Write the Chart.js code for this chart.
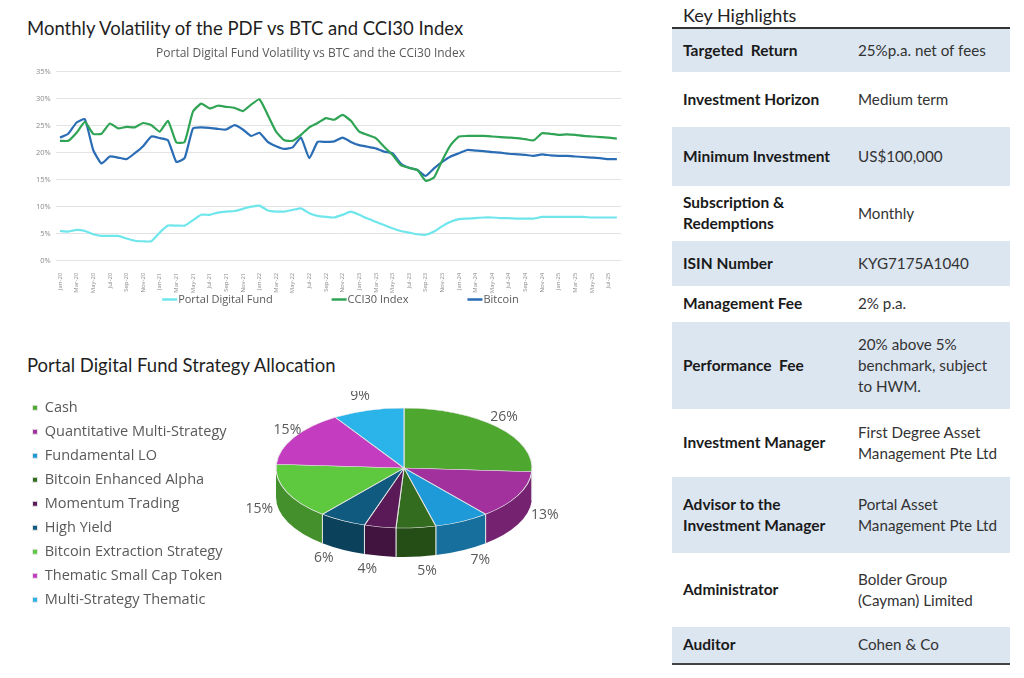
<!DOCTYPE html>
<html><head><meta charset="utf-8">
<script src="https://cdn.jsdelivr.net/npm/chart.js@4.4.1/dist/chart.umd.min.js"></script>
<style>
html,body{margin:0;padding:0;background:#fff;}
body{width:1024px;height:678px;position:relative;overflow:hidden;font-family:Lato,sans-serif;}
.ttl{position:absolute;left:27px;font-size:18.5px;color:#1f1f1f;white-space:nowrap;line-height:22px;}
#lineC{position:absolute;left:0;top:40px;}
#pieC{position:absolute;left:23px;top:391px;}
#kh{position:absolute;left:672px;top:0;width:338px;}
#kh .hdr{position:absolute;left:11px;top:4px;font-size:18px;color:#222;line-height:22px;white-space:nowrap;}
#kh .rule{position:absolute;left:0;top:27px;width:338px;height:1.5px;background:#333;}
#kh table{position:absolute;left:0;top:29px;width:338px;border-collapse:collapse;font-size:15.2px;line-height:21px;table-layout:fixed;}
#kh td{padding:0;vertical-align:middle;white-space:nowrap;color:#333;}
#kh td.k{width:175px;padding-left:11px;font-weight:bold;color:#1a1a1a;font-size:15.5px;}
#kh tr.s td{background:#dce6f1;}
#kh .bot{position:absolute;left:0;top:663px;width:338px;height:2px;background:#444;}
</style></head>
<body>
<div class="ttl" style="top:17px">Monthly Volatility of the PDF vs BTC and CCI30 Index</div>
<canvas id="lineC" width="640" height="275"></canvas>
<div class="ttl" style="top:354px">Portal Digital Fund Strategy Allocation</div>
<canvas id="pieC" width="560" height="240"></canvas>
<div id="kh">
  <div class="hdr">Key Highlights</div>
  <div class="rule"></div>
  <table>
    <colgroup><col style="width:186px"><col style="width:152px"></colgroup>
    <tr class="s" style="height:42.7px"><td class="k">Targeted&nbsp; Return</td><td>25%p.a. net of fees</td></tr>
    <tr style="height:55.7px"><td class="k">Investment Horizon</td><td>Medium term</td></tr>
    <tr class="s" style="height:58.3px"><td class="k">Minimum Investment</td><td>US$100,000</td></tr>
    <tr style="height:55px"><td class="k">Subscription &amp;<br>Redemptions</td><td>Monthly</td></tr>
    <tr class="s" style="height:45px"><td class="k">ISIN Number</td><td>KYG7175A1040</td></tr>
    <tr style="height:36px"><td class="k">Management Fee</td><td>2% p.a.</td></tr>
    <tr class="s" style="height:87px"><td class="k">Performance&nbsp; Fee</td><td>20% above 5%<br>benchmark, subject<br>to HWM.</td></tr>
    <tr style="height:68px"><td class="k">Investment Manager</td><td>First Degree Asset<br>Management Pte Ltd</td></tr>
    <tr class="s" style="height:76px"><td class="k">Advisor to the<br>Investment Manager</td><td>Portal Asset<br>Management Pte Ltd</td></tr>
    <tr style="height:74px"><td class="k">Administrator</td><td>Bolder Group<br>(Cayman) Limited</td></tr>
    <tr class="s" style="height:36px"><td class="k">Auditor</td><td>Cohen &amp; Co</td></tr>
  </table>
  <div class="bot"></div>
</div>
<script>
// ---------- Line chart data ----------
const months = [
 'Jan-20','Feb-20','Mar-20','Apr-20','May-20','Jun-20','Jul-20','Aug-20','Sep-20','Oct-20','Nov-20','Dec-20',
 'Jan-21','Feb-21','Mar-21','Apr-21','May-21','Jun-21','Jul-21','Aug-21','Sep-21','Oct-21','Nov-21','Dec-21',
 'Jan-22','Feb-22','Mar-22','Apr-22','May-22','Jun-22','Jul-22','Aug-22','Sep-22','Oct-22','Nov-22','Dec-22',
 'Jan-23','Feb-23','Mar-23','Apr-23','May-23','Jun-23','Jul-23','Aug-23','Sep-23','Oct-23','Nov-23','Dec-23',
 'Jan-24','Feb-24','Mar-24','Apr-24','May-24','Jun-24','Jul-24','Aug-24','Sep-24','Oct-24','Nov-24','Dec-24',
 'Jan-25','Feb-25','Mar-25','Apr-25','May-25','Jun-25','Jul-25','Aug-25'
];
const portalDigitalFund = [
 5.5,5.4,5.7,5.5,4.9,4.6,4.6,4.6,4.1,3.7,3.6,3.6,
 5.2,6.5,6.5,6.5,7.5,8.5,8.5,8.9,9.1,9.2,9.6,10.0,
 10.2,9.3,9.1,9.1,9.4,9.7,8.8,8.3,8.1,8.0,8.5,9.1,
 8.5,7.8,7.2,6.6,6.0,5.5,5.2,4.9,4.8,5.4,6.4,7.2,
 7.7,7.8,7.9,8.0,8.0,7.9,7.9,7.8,7.8,7.8,8.1,8.1,
 8.1,8.1,8.1,8.1,8.0,8.0,8.0,8.0
];
const cci30Index = [
 22.2,22.2,23.7,25.7,23.5,23.5,25.4,24.5,24.8,24.7,25.5,25.1,
 23.9,25.9,21.9,22.0,27.6,29.1,28.2,28.7,28.5,28.3,27.7,28.9,
 29.9,27.0,23.9,22.3,22.2,23.3,24.7,25.5,26.4,26.1,27.0,25.9,
 23.9,23.3,22.7,21.1,19.6,17.7,17.2,16.8,14.8,15.4,18.6,21.4,
 23.0,23.1,23.1,23.1,23.0,22.9,22.8,22.7,22.5,22.3,23.6,23.5,
 23.3,23.4,23.3,23.1,23.0,22.9,22.8,22.6
];
const bitcoin = [
 22.8,23.5,25.6,26.2,20.5,18.0,19.3,19.1,18.8,19.9,21.2,23.0,
 22.7,22.3,18.3,19.0,24.5,24.7,24.6,24.4,24.3,25.1,24.3,23.1,
 23.7,22.0,21.2,20.7,21.0,22.8,19.0,22.0,22.0,22.1,22.8,22.0,
 21.4,21.1,20.8,20.2,19.9,18.0,17.2,16.8,15.7,17.1,18.3,19.3,
 19.9,20.5,20.4,20.3,20.1,20.0,19.8,19.7,19.6,19.4,19.7,19.5,
 19.4,19.4,19.3,19.2,19.1,19.0,18.8,18.8
];
const seriesNames = ['Portal Digital Fund','CCI30 Index','Bitcoin'];

// ---------- Pie data ----------
const allocLabels = ['Cash','Quantitative Multi-Strategy','Fundamental LO','Bitcoin Enhanced Alpha','Momentum Trading','High Yield','Bitcoin Extraction Strategy','Thematic Small Cap Token','Multi-Strategy Thematic'];
const allocValues = [26,13,7,5,4,6,15,15,9];
const allocColors = ['#4ea72e','#a2309d','#1f9ad8','#336b1f','#5a1a58','#0f5a7e','#5ec83f','#c43cbf','#2ab4ea'];

Chart.defaults.font.family = '"Open Sans", sans-serif';
Chart.defaults.animation = false;

const lineLegend = {
  id:'lineLegend',
  afterDraw(chart){
    const ctx = chart.ctx, ca = chart.chartArea;
    ctx.save();
    ctx.font = '11px "Open Sans"';
    const items = chart.data.datasets.map(d => ({t:d.label, c:d.borderColor, w:ctx.measureText(d.label).width}));
    const sw = 15, g1 = 1, gap = 59;
    const total = items.reduce((a,it)=>a+sw+g1+it.w,0) + gap*(items.length-1);
    let x = (ca.left+ca.right)/2 - total/2 + 2;
    const y = ca.bottom + 38.8;
    ctx.textBaseline = 'middle';
    items.forEach(it => {
      ctx.strokeStyle = it.c; ctx.lineWidth = 2.5;
      ctx.beginPath(); ctx.moveTo(x,y); ctx.lineTo(x+sw,y); ctx.stroke();
      x += sw + g1;
      ctx.fillStyle = '#595959'; ctx.fillText(it.t, x, y);
      x += it.w + gap;
    });
    ctx.restore();
  }
};

new Chart(document.getElementById('lineC'), {
  type:'line',
  data:{
    labels: months,
    datasets:[
      {label:seriesNames[0], data:portalDigitalFund, borderColor:'#6fe6ec', backgroundColor:'#6fe6ec'},
      {label:seriesNames[1], data:cci30Index, borderColor:'#2fa455', backgroundColor:'#2fa455'},
      {label:seriesNames[2], data:bitcoin, borderColor:'#2a6db5', backgroundColor:'#2a6db5'}
    ]
  },
  options:{
    responsive:false,
    layout:{padding:{right:19, bottom:22.3}},
    elements:{line:{borderWidth:2.2, tension:0.15}, point:{radius:0}},
    plugins:{
      legend:{display:false},
      tooltip:{enabled:false},
      title:{display:true, text:'Portal Digital Fund Volatility vs BTC and the CCi30 Index',
        font:{size:12, weight:'normal'}, color:'#595959', padding:{top:6.8, bottom:10.5}}
    },
    scales:{
      x:{
        offset:true,
        grid:{display:false},
        border:{display:false},
        ticks:{autoSkip:false, minRotation:90, maxRotation:90, padding:4, color:'#8a8a8a', font:{size:6},
          callback:function(v,i){ return i%2===0 ? this.getLabelForValue(v) : ''; }},
        afterFit(s){ s.height = 32; }
      },
      y:{
        min:0, max:35,
        grid:{color:'#e3e3e3', drawTicks:false},
        border:{display:false},
        ticks:{stepSize:5, padding:5, color:'#8a8a8a', font:{size:7.5}, callback:v=>v+'%'},
        afterFit(s){ s.width = 55.8; }
      }
    }
  },
  plugins:[lineLegend]
});

// ---------- 3D pie ----------
function shade(hex, f){
  const n = parseInt(hex.slice(1),16);
  const r = Math.round(((n>>16)&255)*f), g = Math.round(((n>>8)&255)*f), b = Math.round((n&255)*f);
  return 'rgb('+r+','+g+','+b+')';
}
const pie3d = {
  id:'pie3d',
  beforeDatasetsDraw(chart, args, o){
    const meta = chart.getDatasetMeta(0);
    const ctx = chart.ctx;
    const p0 = meta.data[0].getProps(['x','y','outerRadius'], true);
    meta.data.forEach((arc, i) => {
      const p = arc.getProps(['startAngle','endAngle'], true);
      const a = Math.max(p.startAngle, 0), b = Math.min(p.endAngle, Math.PI);
      if (b <= a) return;
      ctx.save();
      ctx.beginPath();
      ctx.ellipse(o.cx, o.cy, o.rx, o.ry, 0, a, b);
      ctx.ellipse(o.cx, o.cy + o.depth, o.rx, o.ry, 0, b, a, true);
      ctx.closePath();
      ctx.fillStyle = shade(allocColors[i], 0.72);
      ctx.fill();
      ctx.strokeStyle = 'rgba(235,235,235,0.9)'; ctx.lineWidth = 1;
      [p.startAngle, p.endAngle].forEach(t => {
        if (t > 0 && t < Math.PI) {
          const x = o.cx + o.rx*Math.cos(t), y = o.cy + o.ry*Math.sin(t);
          ctx.beginPath(); ctx.moveTo(x,y); ctx.lineTo(x, y + o.depth); ctx.stroke();
        }
      });
      ctx.restore();
    });
    ctx.save();
    ctx.translate(o.cx, o.cy);
    ctx.scale(o.rx/p0.outerRadius, o.ry/p0.outerRadius);
    ctx.translate(-p0.x, -p0.y);
  },
  afterDatasetsDraw(chart, args, o){
    const ctx = chart.ctx;
    ctx.restore();
    const meta = chart.getDatasetMeta(0);
    ctx.save();
    ctx.font = '14px "Open Sans"';
    ctx.fillStyle = '#595959';
    ctx.textAlign = 'center'; ctx.textBaseline = 'middle';
    meta.data.forEach((arc, i) => {
      const p = arc.getProps(['startAngle','endAngle'], true);
      const m = (p.startAngle + p.endAngle)/2;
      const c = Math.cos(m), s = Math.sin(m);
      const x = o.cx + (s > 0 ? 148 : 125)*c + 9*Math.sign(c);
      const y = o.cy + (s > 0 ? 103 : 75)*s;
      ctx.fillText(chart.data.datasets[0].data[i] + '%', x, y);
    });
    ctx.restore();
  }
};

new Chart(document.getElementById('pieC'), {
  type:'pie',
  data:{
    labels: allocLabels,
    datasets:[{data:allocValues, backgroundColor:allocColors, borderColor:'#e6e6e6', borderWidth:1}]
  },
  options:{
    responsive:false,
    plugins:{
      tooltip:{enabled:false},
      legend:{position:'left', align:'start',
        labels:{boxWidth:5, boxHeight:5, padding:9.5, color:'#595959', font:{size:14.5}}},
      pie3d:{cx:381, cy:77, rx:128, ry:60, depth:29}
    }
  },
  plugins:[pie3d]
});
</script>
</body></html>
